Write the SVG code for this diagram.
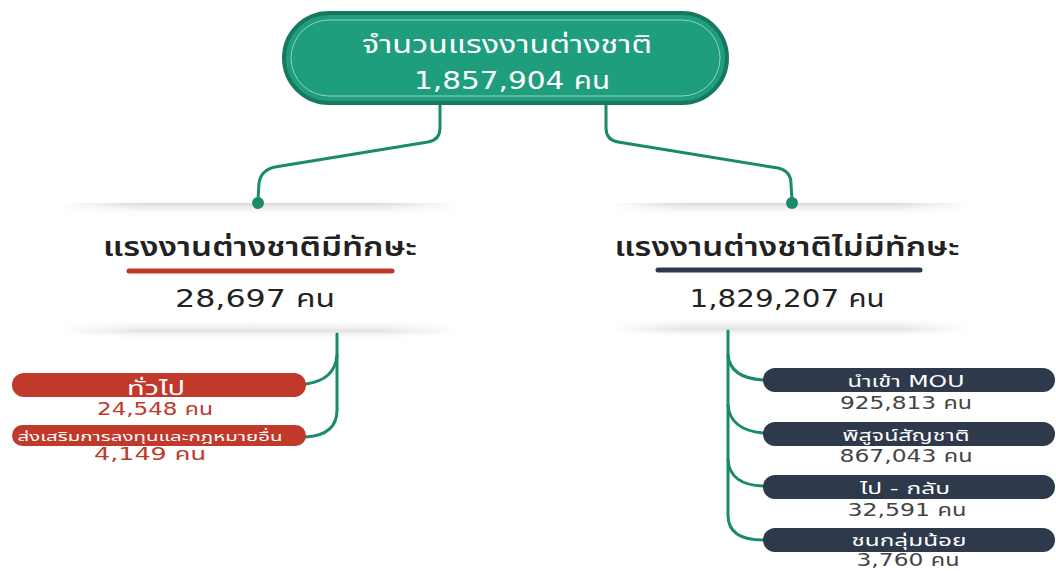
<svg xmlns="http://www.w3.org/2000/svg" width="1056" height="571" viewBox="0 0 1056 571">
<style>
.th{font-family:"DejaVu Sans","Noto Sans Thai","Noto Sans",sans-serif;text-anchor:middle}
.conn{fill:none;stroke:#1b8a6b;stroke-width:3;stroke-linecap:round}
.head{font-size:26px;fill:#222;font-weight:600}
.num{font-size:24px;fill:#222}
.pr{fill:#c0392b}
.pd{fill:#2e3a4b}
.pt{fill:#fff}
.rnum{font-size:17px;fill:#c0392b}
.dnum{font-size:17px;fill:#444}
</style>
<defs>
<linearGradient id="shTop" x1="0" y1="0" x2="0" y2="1">
<stop offset="0" stop-color="#d8d8d8"/>
<stop offset="1" stop-color="#fff" stop-opacity="0"/>
</linearGradient>
<linearGradient id="shBot" x1="0" y1="0" x2="0" y2="1">
<stop offset="0" stop-color="#fff" stop-opacity="0"/>
<stop offset="0.6" stop-color="#e2e2e2"/>
<stop offset="1" stop-color="#fff" stop-opacity="0"/>
</linearGradient>
<linearGradient id="hfade" x1="0" y1="0" x2="1" y2="0">
<stop offset="0" stop-color="#fff" stop-opacity="0"/>
<stop offset="0.2" stop-color="#fff" stop-opacity="1"/>
<stop offset="0.8" stop-color="#fff" stop-opacity="1"/>
<stop offset="1" stop-color="#fff" stop-opacity="0"/>
</linearGradient>
<mask id="mL"><rect x="60" y="195" width="400" height="160" fill="url(#hfade)"/></mask>
<mask id="mR"><rect x="610" y="195" width="360" height="160" fill="url(#hfade)"/></mask>
</defs>
<rect width="1056" height="571" fill="#fff"/>
<g id="shadows">
<g mask="url(#mL)">
<rect x="60" y="203" width="400" height="14" fill="url(#shTop)"/>
<rect x="60" y="318" width="400" height="22" fill="url(#shBot)"/>
</g>
<g mask="url(#mR)">
<rect x="610" y="203" width="360" height="14" fill="url(#shTop)"/>
<rect x="610" y="316" width="360" height="22" fill="url(#shBot)"/>
</g>
</g>
<g id="connectors">
<path class="conn" d="M440,103 L440,128 Q440,140 428,142 L275,167 Q261,170 259,183 L258,200"/>
<circle cx="258" cy="203" r="6" fill="#1b8a6b"/>
<path class="conn" d="M606,103 L606,128 Q606,140 618,142 L778,168 Q791,171 791,184 L792,200"/>
<circle cx="792" cy="203" r="6" fill="#1b8a6b"/>
<path class="conn" d="M337,334 L337,410 Q337,435 306,437"/>
<path class="conn" d="M337,355 Q335,380 306,384"/>
<path class="conn" d="M728,331 L728,515 Q728,540 763,540"/>
<path class="conn" d="M728,355 Q730,378 763,380"/>
<path class="conn" d="M728,405 Q730,430 763,433"/>
<path class="conn" d="M728,460 Q730,485 763,486"/>
</g>
<g id="root">
<rect x="284" y="13" width="443" height="90" rx="45" fill="#1f9e7e" stroke="#17785e" stroke-width="4"/>
<rect x="291" y="20" width="429" height="76" rx="38" fill="none" stroke="#8fd3bd" stroke-width="1"/>
<text class="th" x="507" y="53" font-size="24" fill="#fff" textLength="290" lengthAdjust="spacingAndGlyphs">จำนวนแรงงานต่างชาติ</text>
<text class="th" x="512" y="89" font-size="24" fill="#fff" textLength="196" lengthAdjust="spacingAndGlyphs">1,857,904 คน</text>
</g>
<g id="skilled">
<text class="th head" x="260" y="256" textLength="314" lengthAdjust="spacingAndGlyphs">แรงงานต่างชาติมีทักษะ</text>
<line x1="129" y1="271" x2="392" y2="271" stroke="#c0392b" stroke-width="5" stroke-linecap="round"/>
<text class="th num" x="255" y="307" textLength="160" lengthAdjust="spacingAndGlyphs">28,697 คน</text>
</g>
<g id="unskilled">
<text class="th head" x="787" y="256" textLength="345" lengthAdjust="spacingAndGlyphs">แรงงานต่างชาติไม่มีทักษะ</text>
<line x1="658" y1="270" x2="920" y2="270" stroke="#2e3a4b" stroke-width="5" stroke-linecap="round"/>
<text class="th num" x="787" y="307" textLength="195" lengthAdjust="spacingAndGlyphs">1,829,207 คน</text>
</g>
<g id="general">
<rect class="pr" x="12" y="373" width="294" height="24" rx="12"/>
<text class="th pt" x="156" y="395" font-size="19" textLength="58" lengthAdjust="spacingAndGlyphs">ทั่วไป</text>
<text class="th rnum" x="155" y="415" textLength="116" lengthAdjust="spacingAndGlyphs">24,548 คน</text>
</g>
<g id="boi">
<rect class="pr" x="12" y="425" width="294" height="21" rx="10.5"/>
<text class="th pt" x="150" y="441" font-size="13" textLength="265" lengthAdjust="spacingAndGlyphs">ส่งเสริมการลงทุนและกฎหมายอื่น</text>
<text class="th rnum" x="150" y="460" textLength="112" lengthAdjust="spacingAndGlyphs">4,149 คน</text>
</g>
<g id="mou">
<rect class="pd" x="763" y="368" width="292" height="24" rx="12"/>
<text class="th pt" x="906" y="387" font-size="15" textLength="117" lengthAdjust="spacingAndGlyphs">นำเข้า MOU</text>
<text class="th dnum" x="906" y="409" textLength="132" lengthAdjust="spacingAndGlyphs">925,813 คน</text>
</g>
<g id="nationality">
<rect class="pd" x="763" y="422" width="292" height="24" rx="12"/>
<text class="th pt" x="906" y="441" font-size="15" textLength="127" lengthAdjust="spacingAndGlyphs">พิสูจน์สัญชาติ</text>
<text class="th dnum" x="906" y="462" textLength="133" lengthAdjust="spacingAndGlyphs">867,043 คน</text>
</g>
<g id="border">
<rect class="pd" x="763" y="475" width="292" height="24" rx="12"/>
<text class="th pt" x="905" y="494" font-size="15" textLength="90" lengthAdjust="spacingAndGlyphs">ไป - กลับ</text>
<text class="th dnum" x="907" y="516" textLength="119" lengthAdjust="spacingAndGlyphs">32,591 คน</text>
</g>
<g id="minority">
<rect class="pd" x="763" y="528" width="292" height="24" rx="12"/>
<text class="th pt" x="909" y="546" font-size="15" textLength="115" lengthAdjust="spacingAndGlyphs">ชนกลุ่มน้อย</text>
<text class="th dnum" x="908" y="566" textLength="103" lengthAdjust="spacingAndGlyphs">3,760 คน</text>
</g>
</svg>
